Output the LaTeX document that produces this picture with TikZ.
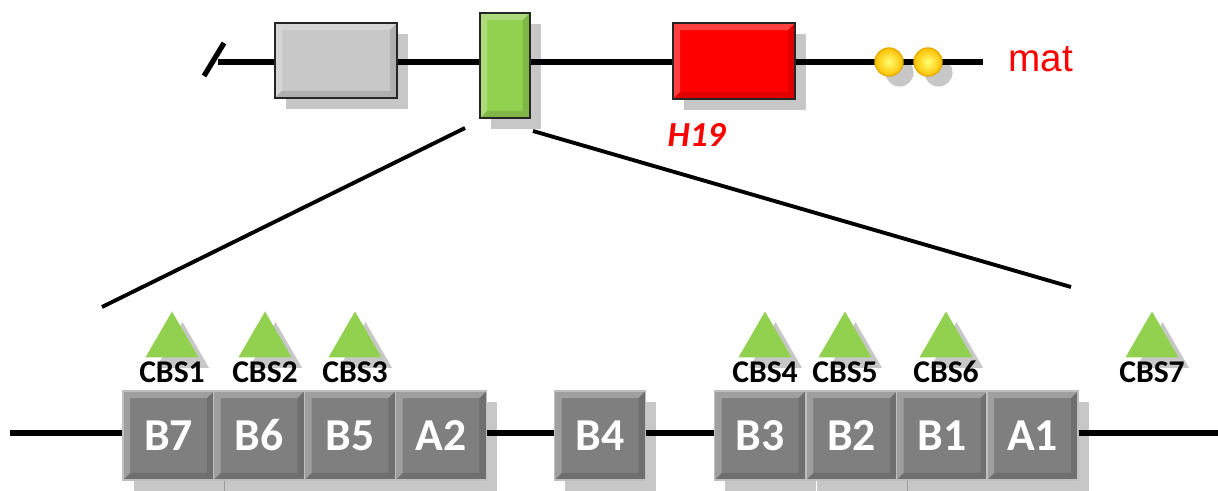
\documentclass[tikz,border=0pt]{standalone}
\usepackage{fontspec}
\setmainfont{Carlito}
\newfontfamily\arialfont{Liberation Sans}
\usetikzlibrary{shadows,shapes.geometric}

\definecolor{boxgrey}{HTML}{C8C8C8}
\definecolor{exongreen}{HTML}{92D050}
\definecolor{exonred}{HTML}{FF0000}
\definecolor{seggrey}{HTML}{7F7F7F}
\definecolor{ballyellow}{HTML}{FFC000}

\begin{document}
\begin{tikzpicture}[x=0.01cm,y=-0.01cm]
	\tikzstyle{bevel} = [path picture={
		\fill[white,opacity=.25] (path picture bounding box.south west) -- (path picture bounding box.north west) -- (path picture bounding box.north east)
			-- ([shift={(-2pt,-2pt)}]path picture bounding box.north east) -- ([shift={(2pt,-2pt)}]path picture bounding box.north west)
			-- ([shift={(2pt,2pt)}]path picture bounding box.south west) -- cycle;
		\fill[black,opacity=.12] (path picture bounding box.north east) -- (path picture bounding box.south east) -- (path picture bounding box.south west)
			-- ([shift={(2pt,2pt)}]path picture bounding box.south west) -- ([shift={(-2pt,2pt)}]path picture bounding box.south east)
			-- ([shift={(-2pt,-2pt)}]path picture bounding box.north east) -- cycle;}]
	\tikzstyle{shade} = [drop shadow={shadow xshift=3pt,shadow yshift=-3pt,fill=black,opacity=.22}]
	\tikzstyle{exon} = [rectangle,draw=black!85,thick,inner sep=0pt,shade,bevel]
	\tikzstyle{seg} = [rectangle,draw=white!75!black,fill=seggrey,minimum width=0.91cm,minimum height=0.89cm,inner sep=0pt,
		text=white,font=\fontsize{13}{15}\selectfont\bfseries,shade,bevel]
	\tikzstyle{cbs} = [regular polygon,regular polygon sides=3,minimum size=0.61cm,inner sep=0pt,fill=exongreen,shade]
	\tikzstyle{cbslabel} = [font=\fontsize{9}{11}\selectfont\bfseries,inner sep=0pt]
	\tikzstyle{ball} = [circle,shading=radial,inner color=yellow!55!white,outer color=ballyellow,draw=ballyellow!90!black,
		minimum size=0.28cm,inner sep=0pt,shade]
	\tikzstyle{dna} = [line width=1.5pt]
	\useasboundingbox (0,0) rectangle (1218,491);
	% upper locus
	\coordinate (tstart) at (218,62);
	\coordinate (tend) at (983,62);
	\node[exon,fill=boxgrey,minimum width=1.22cm,minimum height=0.75cm] (grey) at (336,60.5) {};
	\node[exon,fill=exongreen,minimum width=0.50cm,minimum height=1.05cm] (ic) at (505,65.5) {};
	\node[exon,fill=exonred,minimum width=1.22cm,minimum height=0.76cm] (h19) at (734,61) {};
	\draw[dna] (tstart) -- (grey.west |- tstart);
	\draw[dna] (grey.east |- tstart) -- (ic.west |- tstart);
	\draw[dna] (ic.east |- tstart) -- (h19.west |- tstart);
	\draw[dna] (h19.east |- tstart) -- (tend);
	\draw[dna] (204,76) -- (224,43);
	\foreach \i/\x in {1/889,2/928}
		\node[ball] (ball\i) at (\x,62) {};
	\node[anchor=base west,text=exonred,font=\arialfont\fontsize{11}{13}\selectfont,inner sep=0pt] (mat) at (1008,72) {mat};
	\node[anchor=base west,text=exonred,font=\fontsize{10}{12}\selectfont\bfseries\itshape,inner sep=0pt] (h19lab) at (667,147) {H19};
	% zoom lines
	\coordinate (zl) at (465,128);
	\coordinate (zr) at (533,131);
	\coordinate (zle) at (102,307);
	\coordinate (zre) at (1071,287);
	\draw[line width=1.1pt] (zl) -- (zle);
	\draw[line width=1.1pt] (zr) -- (zre);
	% lower locus: repeats
	\coordinate (bstart) at (10,433);
	\coordinate (bend) at (1218,433);
	\foreach \x/\t in {168.5/B7,259/B6,350/B5,441/A2,600/B4,760/B3,851.5/B2,942/B1,1032.5/A1}
		\node[seg] (\t) at (\x,435.5) {\t};
	\draw[dna] (bstart) -- (B7.west |- bstart);
	\draw[dna] (A2.east |- bstart) -- (B4.west |- bstart);
	\draw[dna] (B4.east |- bstart) -- (B3.west |- bstart);
	\draw[dna] (A1.east |- bstart) -- (bend);
	% CTCF binding sites
	\foreach \x/\n in {172/1,265/2,355/3,765/4,845/5,946/6,1152/7} {
		\node[cbs] (cbs\n) at (\x,342) {};
		\node[cbslabel] (cbslab\n) at (\x,372) {CBS\n};
	}
\end{tikzpicture}
\end{document}
